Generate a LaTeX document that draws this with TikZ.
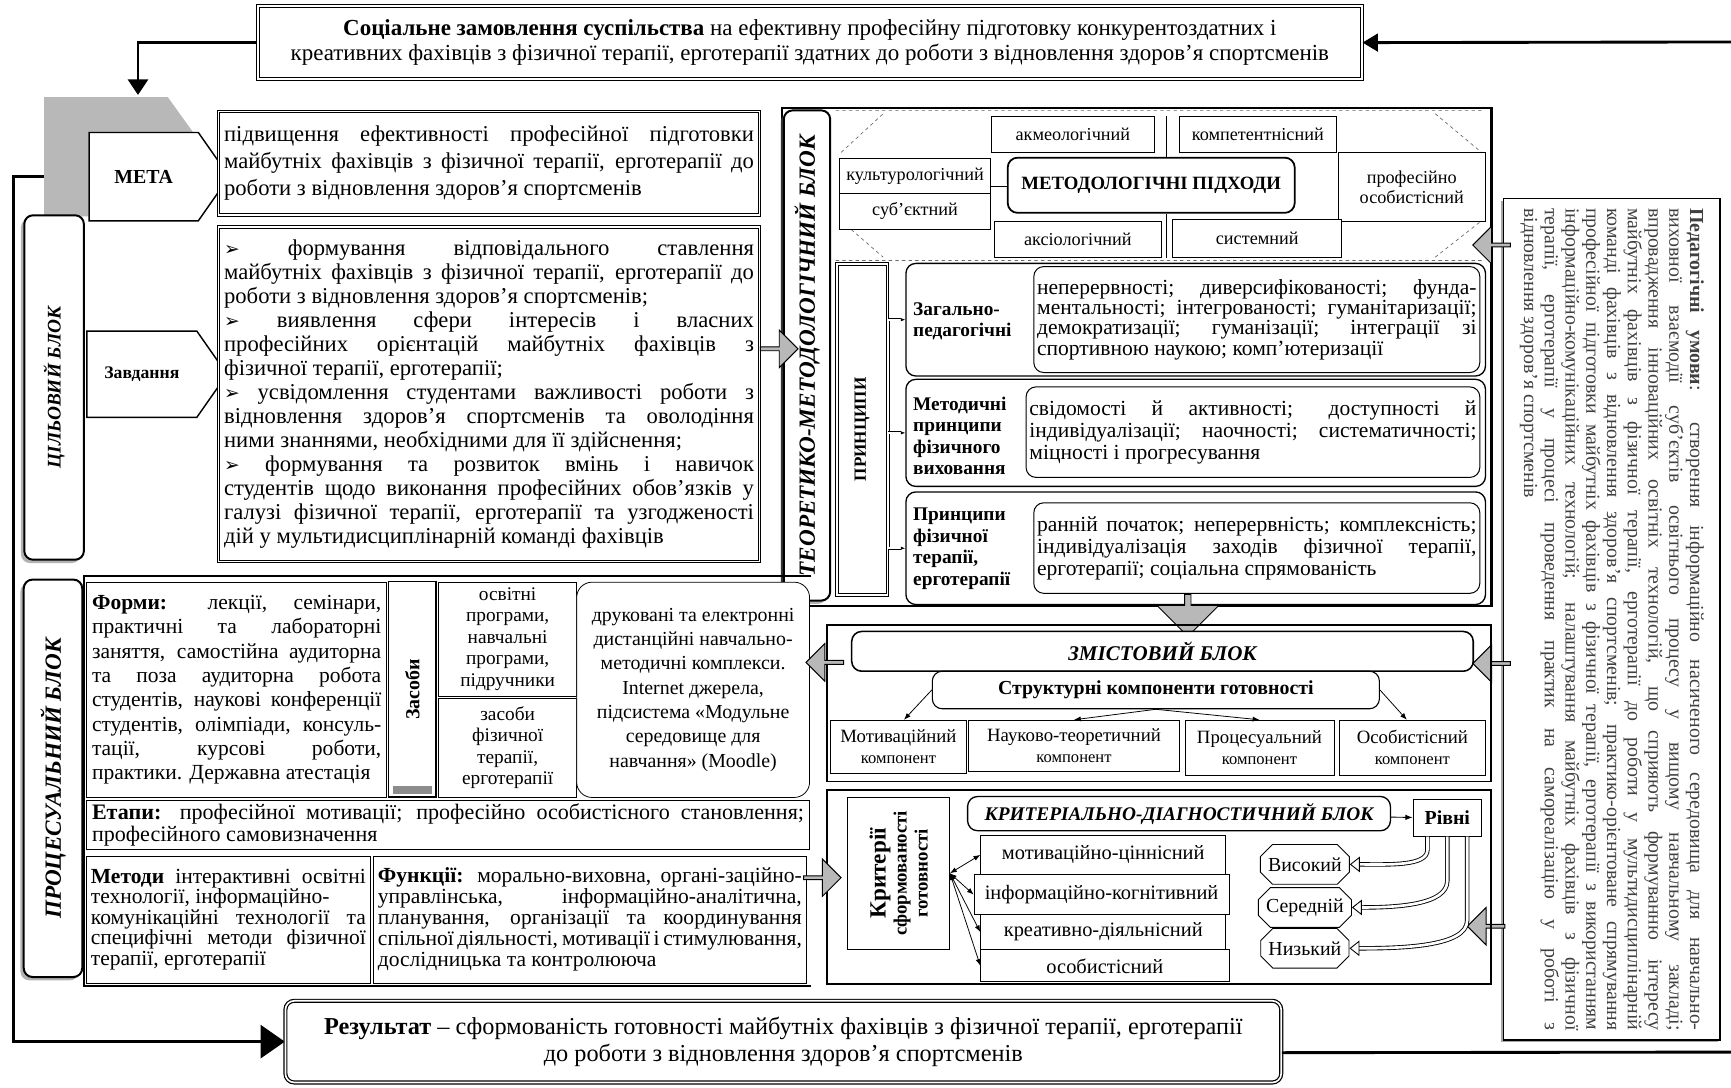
\documentclass[tikz,border=0pt]{standalone}
\usepackage{fontspec}
\setmainfont{Liberation Serif}
\newfontfamily\dejavu{DejaVu Sans}
\usetikzlibrary{arrows.meta,shapes.symbols,shapes.arrows,shapes.misc,shadows,backgrounds}
\setlength{\parindent}{0pt}
\newcommand\fsz[2]{\fontsize{#1}{#2}\selectfont}
\newcommand\bul{{\dejavu\fsz{17}{17}➢}}

\begin{document}
\begin{tikzpicture}[x=1pt,y=-1pt,>=Latex,
  every node/.style={inner sep=2pt,font=\fsz{17}{19}},
  box/.style={draw,line width=.7pt,align=center,fill=white},
  dbox/.style={draw,line width=.9pt,double,double distance=1.5pt,fill=white},
  rbox/.style={draw,line width=1.2pt,rounded corners=9pt,fill=white},
  sidebox/.style={draw,line width=1.8pt,rounded corners=8pt,fill=white,
    drop shadow={shadow xshift=-3pt,shadow yshift=-3pt,fill=black!60}},
  loop/.style={line width=2.6pt},
  gray arrow/.style={single arrow,draw,line width=.9pt,fill=black!28,inner sep=0pt,
    minimum height=34,minimum width=34,single arrow head extend=4pt},
  tag/.style={signal,signal to=east,draw,line width=1.3pt,fill=white,anchor=west,
    signal pointer angle=110,minimum width=127},
  level/.style={chamfered rectangle,chamfered rectangle xsep=5pt,chamfered rectangle ysep=6pt,
    draw,line width=.8pt,fill=white,minimum width=80,minimum height=36,font=\fsz{18}{20}},
  dbl/.style={line width=.6pt,double,double distance=1.6pt},
  hollow/.style={line width=.8pt,double,double distance=2.4pt,
    -{Triangle[open,length=9pt,width=14pt]}}
]
\useasboundingbox (0,0) rectangle (1568,985);

% top and bottom
\node[dbox,line width=1.2pt,minimum width=1000,minimum height=66,anchor=north west,
  align=center,font=\fsz{20.8}{23}] (order) at (233,5)
  {\textbf{Соціальне замовлення суспільства} на ефективну професійну підготовку конкурентоздатних і\\
   креативних фахівців з фізичної терапії, ерготерапії здатних до роботи з відновлення здоров’я спортсменів};
\node[dbox,line width=1.1pt,rounded corners=8pt,minimum width=902,minimum height=74,anchor=north west,
  align=center,font=\fsz{22}{24}] (result) at (258,906)
  {\textbf{Результат} – сформованість готовності майбутніх фахівців з фізичної терапії, ерготерапії\\
   до роботи з відновлення здоров’я спортсменів};
\coordinate (goaltop) at (125,86);
\coordinate (fbin) at (1568,38);
\coordinate (fbout) at (1568,953);
\draw[loop,-{Triangle[length=14pt,width=18pt]}] (order.west) -| (goaltop);
\draw[loop,-{Triangle[length=14pt,width=16pt]}] (fbin) -- (order.east);
\draw[loop] ([yshift=-10pt]result.east) -- (fbout);

% target block
\node[tag,minimum height=80,font=\fsz{18}{20}\bfseries] (goal) at (80,160) {МЕТА};
\node[tag,minimum height=78,font=\fsz{16}{18}\bfseries] (tasktag) at (78,339) {Завдання};
\begin{pgfonlayer}{background}
  \fill[white] (0,0) rectangle (1568,985);
  \draw[loop,-{Triangle[length=22pt,width=30pt]}] (goal.west) -- (12,160) |- (result.west);
  \fill[black!28] (40,88) -- (152,88) -- (175,120) -- (80,120) -- (80,196) -- (40,196) -- cycle;
\end{pgfonlayer}
\node[sidebox,rotate=90,minimum width=312,minimum height=54,font=\fsz{17.5}{19}\bfseries\itshape]
  (goalblk) at (49,351) {ЦІЛЬОВИЙ БЛОК};
\node[dbox,text width=480,minimum height=94,inner sep=5pt,align=justify,font=\fsz{20.5}{24.5}]
  (goaltxt) at (443,148)
  {підвищення ефективності професійної підготовки\linebreak майбутніх фахівців з фізичної терапії, ерготерапії до\linebreak роботи з відновлення здоров’я спортсменів};
\node[dbox,text width=480,minimum height=303,inner sep=5pt,align=justify,font=\fsz{20.5}{21.75}]
  (tasks) at (443,357)
  {\bul{} формування відповідального ставлення\linebreak майбутніх фахівців з фізичної терапії, ерготерапії до\linebreak роботи з відновлення здоров’я спортсменів;\par
   \bul{} виявлення сфери інтересів і власних\linebreak професійних орієнтацій майбутніх фахівців з\linebreak фізичної терапії, ерготерапії;\par
   \bul{} усвідомлення студентами важливості роботи з\linebreak відновлення здоров’я спортсменів та оволодіння\linebreak ними знаннями, необхідними для її здійснення;\par
   \bul{} формування та розвиток вмінь і навичок\linebreak студентів щодо виконання професійних обов’язків у\linebreak галузі фізичної терапії, ерготерапії та узгодженості\linebreak дій у мультидисциплінарній команді фахівців};

% theory block
\node[draw,line width=2pt,minimum width=643,minimum height=451,anchor=north west,inner sep=0pt]
  (theory) at (707,97) {};
\node[sidebox,rotate=90,minimum width=444,minimum height=42,font=\fsz{21}{23}\bfseries\itshape]
  (theolbl) at (731,322) {ТЕОРЕТИКО-МЕТОДОЛОГІЧНИЙ БЛОК};
\node[gray arrow] (task2th) at (705,316) {};
\draw[dashed,black!60,line width=.6pt] (757,100) -- (1345,100) (757,236) -- (1345,236)
  (762,138) -- (800,103) (1300,103) -- (1342,138) (762,200) -- (800,233) (1300,233) -- (1342,200);
\begin{scope}[every node/.style={box,inner sep=1pt,font=\fsz{16.5}{18}}]
  \node[minimum width=147,minimum height=33,anchor=north west] (akme) at (898,105) {акмеологічний};
  \node[minimum width=142,minimum height=33,anchor=north west] (komp) at (1068,105) {компетентнісний};
  \node[minimum width=137,minimum height=32,anchor=north west] (kult) at (760,143) {культурологічний};
  \node[minimum width=137,minimum height=32,anchor=north west] (subj) at (760,175) {суб’єктний};
  \node[minimum width=133,minimum height=62,anchor=north west] (prof) at (1212,138) {професійно\\ особистісний};
  \node[minimum width=152,minimum height=33,anchor=north west] (aksi) at (900,200) {аксіологічний};
  \node[minimum width=153,minimum height=35,anchor=north west] (syst) at (1062,198) {системний};
\end{scope}
\node[rbox,line width=1.6pt,minimum width=260,minimum height=50,anchor=north west,font=\fsz{17}{19}\bfseries]
  (metod) at (912,142) {МЕТОДОЛОГІЧНІ ПІДХОДИ};
\draw[dbl] (metod.west) -- (metod.west -| kult.east);
\draw[dbl] ([xshift=15pt]metod.south) -- ([xshift=15pt]metod.south |- aksi.south);
\draw[dbl] ([xshift=15pt]metod.north) -- ([xshift=15pt]metod.north |- akme.north);

\node[dbox,rotate=90,minimum width=300,minimum height=46,font=\fsz{15.5}{17}\bfseries]
  (princ) at (781,389) {ПРИНЦИПИ};
\node[rbox,minimum width=525,minimum height=102,anchor=north west] (gen) at (820,238) {};
\node[rbox,minimum width=525,minimum height=97,anchor=north west] (meth) at (820,343) {};
\node[rbox,minimum width=525,minimum height=102,anchor=north west] (phys) at (820,445) {};
\begin{scope}[every node/.style={anchor=west,align=left,inner sep=0pt,font=\fsz{17.5}{19.5}\bfseries}]
  \node (genlbl) at (827,291) {Загально-\\педагогічні};
  \node (methlbl) at (827,395) {Методичні\\принципи\\фізичного\\виховання};
  \node (physlbl) at (827,497) {Принципи\\фізичної\\терапії,\\ерготерапії};
\end{scope}
\begin{scope}[every node/.style={rbox,line width=.9pt,anchor=north west,inner sep=3pt,
    align=justify,font=\fsz{19.5}{18.5}}]
  \node[text width=398,minimum height=96] (gentxt) at (936,241)
    {неперервності; диверсифікованості; фунда-\linebreak ментальності; інтегрованості; гуманітаризації;\linebreak демократизації; гуманізації; інтеграції зі\linebreak спортивною наукою; комп’ютеризації};
  \node[text width=405,minimum height=82,font=\fsz{19.5}{20}] (methtxt) at (929,350)
    {свідомості й активності; доступності й\linebreak індивідуалізації; наочності; систематичності;\linebreak міцності і прогресування};
  \node[text width=398,minimum height=82,font=\fsz{19.5}{20}] (phystxt) at (936,455)
    {ранній початок; неперервність; комплексність;\linebreak індивідуалізація заходів фізичної терапії,\linebreak ерготерапії; соціальна спрямованість};
\end{scope}
\draw[dbl] (princ.south |- gen.west) -- (princ.south |- phys.west);
\foreach \g in {gen,meth,phys}
  \draw[dbl,-{Latex[length=4pt]}] (princ.south |- \g.west) -- (\g.west);
\node[gray arrow,shape border rotate=270,minimum height=38,minimum width=56] (th2cont) at (1076,556) {};

% conditions
\node[draw,fill=white,line width=1.4pt,rotate=-90,minimum width=762,minimum height=196,text width=745,
  align=justify,text=black!75,font=\fsz{18}{18.8},
  drop shadow={shadow xshift=-2pt,shadow yshift=-2pt,fill=black!70}] (cond) at (1460,561)
  {\textbf{Педагогічні умови}: створення інформаційно насиченого середовища для навчально-\linebreak
   виховної взаємодії суб’єктів освітнього процесу у вищому навчальному закладі;\linebreak
   впровадження інноваційних освітніх технологій, що сприяють формуванню інтересу\linebreak
   майбутніх фахівців з фізичної терапії, ерготерапії до роботи у мультидисциплінарній\linebreak
   команді фахівців з відновлення здоров’я спортсменів; практико-орієнтоване спрямування\linebreak
   професійної підготовки майбутніх фахівців з фізичної терапії, ерготерапії з використанням\linebreak
   інформаційно-комунікаційних технологій; налаштування майбутніх фахівців з фізичної\linebreak
   терапії, ерготерапії у процесі проведення практик на самореалізацію у роботі з\linebreak
   відновлення здоров’я спортсменів};
\node[gray arrow,shape border rotate=180] (cond2th) at (1352,222) {};
\node[gray arrow,shape border rotate=180] (cond2cont) at (1352,601) {};
\node[gray arrow,shape border rotate=180] (cond2crit) at (1347,839) {};

% content block
\node[draw,line width=1.8pt,minimum width=602,minimum height=142,anchor=north west,inner sep=0pt]
  (content) at (748,565) {};
\node[rbox,line width=1.4pt,minimum width=563,minimum height=36,font=\fsz{19}{21}\bfseries\itshape]
  (conttitle) at (1053,590) {ЗМІСТОВИЙ БЛОК};
\node[rbox,line width=1pt,minimum width=405,minimum height=34,font=\fsz{18}{20}\bfseries]
  (struct) at (1047,625) {Структурні компоненти готовності};
\begin{scope}[every node/.style={box,anchor=north west,inner sep=1pt,font=\fsz{17}{19}}]
  \node[minimum width=123,minimum height=48] (motc) at (752,652) {Мотиваційний\\ {\fsz{15}{17}компонент}};
  \node[minimum width=191,minimum height=46] (sciec) at (877,652) {Науково-теоретичний\\ {\fsz{15}{17}компонент}};
  \node[minimum width=135,minimum height=50] (procc) at (1073,652) {Процесуальний\\ {\fsz{15}{17}компонент}};
  \node[minimum width=132,minimum height=50] (persc) at (1213,652) {Особистісний\\ {\fsz{15}{17}компонент}};
\end{scope}
\draw[->,line width=.7pt] (struct.west) -- ([xshift=5pt]motc.north);
\draw[->,line width=.7pt] (struct.south) -- (sciec.north);
\draw[->,line width=.7pt] (struct.south) -- (procc.north);
\draw[->,line width=.7pt] (struct.east) -- ([xshift=-5pt]persc.north);

% criteria block
\node[draw,line width=1.8pt,minimum width=602,minimum height=175,anchor=north west,inner sep=0pt]
  (critblk) at (748,715) {};
\node[box,line width=1pt,rotate=90,minimum width=138,minimum height=92] (crit) at (814,791)
  {{\fsz{21}{22}\bfseries Критерії}\\ {\fsz{17}{18}\bfseries сформованості}\\ {\fsz{17}{18}\bfseries готовності}};
\node[rbox,minimum width=383,minimum height=31,font=\fsz{17.5}{19}\bfseries\itshape]
  (crittitle) at (1068,737) {КРИТЕРІАЛЬНО-ДІАГНОСТИЧНИЙ БЛОК};
\node[box,minimum width=62,minimum height=33,font=\fsz{18}{20}\bfseries] (levels) at (1311,741) {Рівні};
\draw[->,line width=.8pt] (crittitle) -- (levels);
\begin{scope}[every node/.style={box,anchor=north west,inner sep=1pt,font=\fsz{18.5}{20}}]
  \node[minimum width=222,minimum height=36] (crit1) at (888,756) {мотиваційно-ціннісний};
  \node[minimum width=231,minimum height=36] (crit2) at (882,792) {інформаційно-когнітивний};
  \node[minimum width=222,minimum height=32] (crit3) at (888,828) {креативно-діяльнісний};
  \node[minimum width=225,minimum height=29] (crit4) at (888,860) {особистісний};
\end{scope}
\foreach \k in {crit1,crit2,crit3,crit4}
  \draw[<->,line width=.7pt] (crit.south) -- (\k.west);
\node[level] (high) at (1182,783) {Високий};
\node[level] (mid) at (1182,822) {Середній};
\node[level] (low) at (1182,859) {Низький};
\draw[hollow] ([xshift=-18pt]levels.south) -- ++(0,12) .. controls +(0,15) and +(35,0) .. (high.east);
\draw[hollow] (levels.south) -- ++(0,40) .. controls +(0,22) and +(40,0) .. (mid.east);
\draw[hollow] ([xshift=18pt]levels.south) -- ++(0,76) .. controls +(0,24) and +(45,0) .. (low.east);

% process block
\node[sidebox,rotate=90,minimum width=360,minimum height=53,font=\fsz{21}{23}\bfseries\itshape]
  (procblk) at (48,705) {ПРОЦЕСУАЛЬНИЙ БЛОК};
\draw[line width=1.8pt] (735,522) -- (76,522) -- (76,893) -- (735,893);
\node[box,anchor=north west,minimum width=272,minimum height=195,text width=262,align=justify,
  font=\fsz{19.5}{22}] (forms) at (78,527)
  {\textbf{Форми:} лекції, семінари,\linebreak практичні та лабораторні\linebreak заняття, самостійна аудиторна\linebreak та поза аудиторна робота\linebreak студентів, наукові конференції\linebreak студентів, олімпіади, консуль-\linebreak тації, курсові роботи,\linebreak практики. Державна атестація};
\node[box,line width=1.2pt,rotate=90,minimum width=195,minimum height=43,font=\fsz{18}{20}\bfseries]
  (means) at (373.5,624.5) {Засоби};
\fill[black!45] (356,712) rectangle (391,719);
\node[box,anchor=north west,minimum width=125,minimum height=103,font=\fsz{17.5}{19.5}] (progs) at (397,527)
  {освітні\\ програми,\\ навчальні\\ програми,\\ підручники};
\node[box,anchor=north west,minimum width=125,minimum height=90,font=\fsz{17.5}{19.5}] (ptmeans) at (397,632)
  {засоби\\ фізичної\\ терапії,\\ ерготерапії};
\node[box,rounded corners=14pt,anchor=north west,minimum width=211,minimum height=195,font=\fsz{18}{22}]
  (emeans) at (522,527)
  {друковані та електронні\\ дистанційні навчально-\\ методичні комплекси.\\ Internet джерела,\\ підсистема «Модульне\\ середовище для\\ навчання» (Moodle)};
\node[gray arrow,shape border rotate=180] (cont2proc) at (748,600) {};
\node[box,anchor=north west,minimum width=655,minimum height=44,text width=645,align=justify,
  font=\fsz{20}{20}] (stages) at (78,725)
  {\textbf{Етапи:} професійної мотивації; професійно особистісного становлення;\linebreak професійного самовизначення};
\node[box,anchor=north west,minimum width=257,minimum height=115,text width=249,align=justify,
  font=\fsz{19.5}{18.5}] (methods) at (78,775)
  {\textbf{Методи} інтерактивні освітні\linebreak технології, інформаційно-\newline комунікаційні технології та\linebreak специфічні методи фізичної\linebreak терапії, ерготерапії};
\node[box,anchor=north west,minimum width=392,minimum height=115,text width=384,align=justify,
  font=\fsz{19.5}{19}] (funcs) at (338,775)
  {\textbf{Функції:} морально-виховна, органі-заційно-\linebreak управлінська, інформаційно-аналітична,\linebreak планування, організації та координування\linebreak спільної діяльності, мотивації і стимулювання,\linebreak дослідницька та контролююча};
\node[gray arrow] (proc2crit) at (744,795) {};
\end{tikzpicture}
\end{document}
